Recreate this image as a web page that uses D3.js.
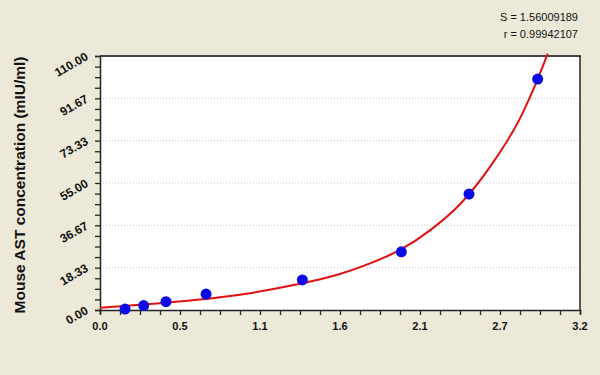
<!DOCTYPE html>
<html>
<head>
<meta charset="utf-8">
<script src="https://cdn.jsdelivr.net/npm/d3@7"></script>
<style>
  body { margin: 0; background: #ECE9D8; }
  text { font-family: "Liberation Sans", Arial, sans-serif; }
</style>
</head>
<body>
<div id="chart"></div>
<script>
// standards: concentration vs OD
const stdOD = [0.167, 0.291, 0.44, 0.707, 1.349, 2.009, 2.46, 2.918];
const stdConc = [0.4, 1.9, 3.6, 6.9, 13.0, 25.2, 50.2, 100.0];

// fitted curve
const curveOD = [0.0, 0.2, 0.4, 0.6, 0.8, 1.0, 1.2, 1.4, 1.6, 1.8, 2.0, 2.2, 2.4, 2.6, 2.8, 2.918, 2.985];
const curveConc = [1.0, 1.9, 2.9, 4.1, 5.5, 7.3, 9.6, 12.3, 15.6, 20.2, 26.0, 34.5, 45.8, 62.0, 83.0, 100.0, 111.0];

const xTickValues = [0, 0.5333, 1.0667, 1.6, 2.1333, 2.6667, 3.2];
const xTickLabels = ["0.0", "0.5", "1.1", "1.6", "2.1", "2.7", "3.2"];
const yTickValues = [0, 18.333, 36.667, 55, 73.333, 91.667, 110];
const yTickLabels = ["0.00", "18.33", "36.67", "55.00", "73.33", "91.67", "110.00"];

const statLines = ["S = 1.56009189", "r = 0.99942107"];
const yTitle = "Mouse AST concentration (mIU/ml)";

const W = 600, H = 375;
const plot = {l: 100, r: 580, t: 56, b: 310};

let svg = d3.select("#chart").append("svg")
    .attr("width", W)
    .attr("height", H);

svg.append("rect")
    .attr("width", W).attr("height", H)
    .attr("fill", "#ECE9D8");

let scaleX = d3.scaleLinear().domain([0, 3.2]).range([plot.l, plot.r]);
let scaleY = d3.scaleLinear().domain([0, 110]).range([plot.b, plot.t]);

//plot area
svg.append("rect")
    .attr("x", plot.l).attr("y", plot.t)
    .attr("width", plot.r - plot.l).attr("height", plot.b - plot.t)
    .attr("fill", "white");

//grid lines
svg.append("g")
    .selectAll("line")
    .data(yTickValues.slice(1, -1))
    .join("line")
    .attr("x1", plot.l).attr("x2", plot.r)
    .attr("y1", d => scaleY(d)).attr("y2", d => scaleY(d))
    .attr("stroke", "#c8c8c8")
    .attr("stroke-dasharray", "1,2");

//frame top + right
svg.append("line")
    .attr("x1", plot.l).attr("x2", plot.r + 1)
    .attr("y1", plot.t).attr("y2", plot.t)
    .attr("stroke", "#444").attr("stroke-width", 2);
svg.append("line")
    .attr("x1", plot.r).attr("x2", plot.r)
    .attr("y1", plot.t).attr("y2", plot.b)
    .attr("stroke", "#222").attr("stroke-width", 1.5);

//minor ticks
const xMinor = d3.range(25).map(i => i * 3.2 / 24);
const yMinor = d3.range(25).map(i => i * 110 / 24);

let axisX = d3.axisBottom(scaleX)
    .tickValues(xMinor)
    .tickSize(5)
    .tickFormat("");
let axisY = d3.axisLeft(scaleY)
    .tickValues(yMinor)
    .tickSize(5)
    .tickFormat("");

let gx = svg.append("g")
    .attr("transform", `translate(0,${plot.b})`)
    .call(axisX);
gx.select(".domain").attr("stroke", "#222").attr("stroke-width", 1.5);
gx.selectAll(".tick line").attr("stroke", "#222").attr("stroke-width", 1.3);

let gy = svg.append("g")
    .attr("transform", `translate(${plot.l},0)`)
    .call(axisY);
gy.select(".domain").attr("stroke", "#222").attr("stroke-width", 1.5);
gy.selectAll(".tick line").attr("stroke", "#222").attr("stroke-width", 1.3);

//x tick labels
svg.append("g")
    .selectAll("text")
    .data(xTickValues)
    .join("text")
    .attr("x", d => scaleX(d))
    .attr("y", plot.b + 20)
    .attr("text-anchor", "middle")
    .attr("font-size", 11)
    .attr("font-weight", "bold")
    .attr("fill", "#111")
    .text((d, i) => xTickLabels[i]);

//y tick labels, slanted
svg.append("g")
    .selectAll("text")
    .data(yTickValues)
    .join("text")
    .attr("transform", d => `translate(${plot.l - 11},${scaleY(d) + 3}) rotate(-30)`)
    .attr("text-anchor", "end")
    .attr("font-size", 12)
    .attr("font-weight", "bold")
    .attr("fill", "#111")
    .text((d, i) => yTickLabels[i]);

//y title
svg.append("text")
    .attr("transform", `translate(25,${(plot.t + plot.b) / 2 + 2}) rotate(-90)`)
    .attr("text-anchor", "middle")
    .attr("font-size", 15.5)
    .attr("font-weight", "bold")
    .attr("fill", "#111")
    .text(yTitle);

//stats
svg.append("g")
    .selectAll("text")
    .data(statLines)
    .join("text")
    .attr("x", 578)
    .attr("y", (d, i) => 21 + i * 17)
    .attr("text-anchor", "end")
    .attr("font-size", 11)
    .attr("fill", "#111")
    .text(d => d);

//clip for curve
svg.append("clipPath").attr("id", "clip")
    .append("rect")
    .attr("x", plot.l).attr("y", plot.t - 3)
    .attr("width", plot.r - plot.l).attr("height", plot.b - plot.t + 3);

let line = d3.line()
    .x(d => scaleX(d[0]))
    .y(d => scaleY(d[1]))
    .curve(d3.curveMonotoneX);

svg.append("path")
    .datum(curveOD.map((x, i) => [x, curveConc[i]]))
    .attr("clip-path", "url(#clip)")
    .attr("fill", "none")
    .attr("stroke", "#e01010")
    .attr("stroke-width", 2)
    .attr("d", line);

//points
svg.append("g")
    .selectAll("circle")
    .data(stdOD)
    .join("circle")
    .attr("cx", d => scaleX(d))
    .attr("cy", (d, i) => scaleY(stdConc[i]))
    .attr("r", 5.5)
    .attr("fill", "#0a0ae6");
</script>
</body>
</html>
